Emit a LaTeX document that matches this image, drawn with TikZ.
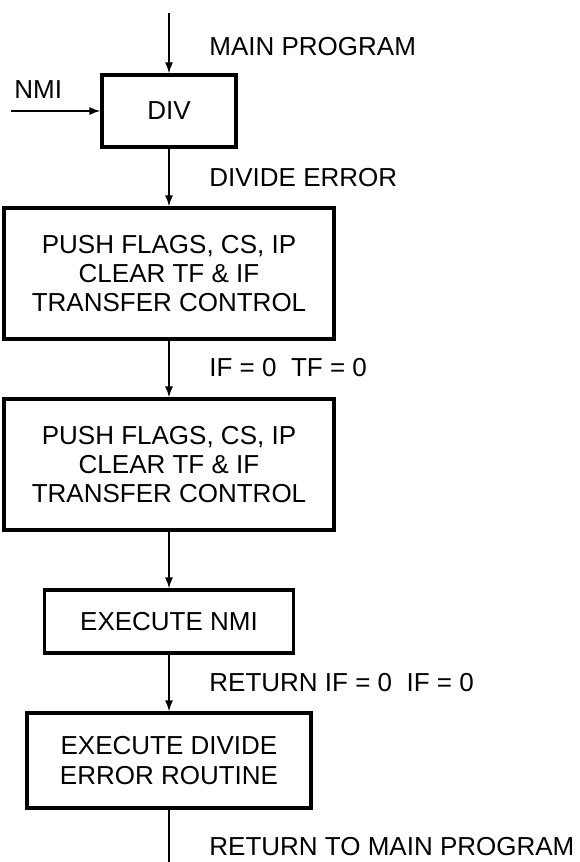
\documentclass[tikz,border=0pt]{standalone}
\usepackage{fontspec}
\setmainfont{Liberation Sans}
\usetikzlibrary{arrows.meta}
\begin{document}
\begin{tikzpicture}[x=0.5pt,y=-0.5pt,
  every node/.style={font=\fontsize{13}{14.6}\selectfont},
  box/.style={draw,line width=1.6pt,rectangle,align=center,inner sep=0pt},
  lbl/.style={anchor=west,inner sep=0pt},
  conn/.style={line width=0.8pt},
  arr/.style={conn,-{Latex[length=5.5pt,width=4pt]}}]
\useasboundingbox (0,0) rectangle (579,862);
\node[box,minimum width=134*0.5pt,minimum height=72*0.5pt] (div) at (169,111) {DIV};
\node[box,minimum width=330*0.5pt,minimum height=131*0.5pt] (b1) at (169,273.5) {PUSH FLAGS, CS, IP\\CLEAR TF \& IF\\TRANSFER CONTROL};
\node[box,minimum width=330*0.5pt,minimum height=131*0.5pt] (b2) at (169,464.5) {PUSH FLAGS, CS, IP\\CLEAR TF \& IF\\TRANSFER CONTROL};
\node[box,minimum width=249*0.5pt,minimum height=63*0.5pt] (b3) at (169,621.5) {EXECUTE NMI};
\node[box,minimum width=284*0.5pt,minimum height=95*0.5pt] (b4) at (169,760.5) {EXECUTE DIVIDE\\ERROR ROUTINE};
\coordinate (top) at (169,13);
\coordinate (bot) at (169,862);
\coordinate (nmiin) at (11,111);
\node[lbl] (lmain) at (209,47) {MAIN PROGRAM};
\node[lbl] (lnmi) at (14,90) {NMI};
\node[lbl] (ldiv) at (209,178) {DIVIDE ERROR};
\node[lbl] (lif) at (209,368) {IF = 0\ \ TF = 0};
\node[lbl] (lret) at (209,683) {RETURN IF = 0\ \ IF = 0};
\node[lbl] (lretm) at (209,847) {RETURN TO MAIN PROGRAM};
\draw[arr] (top) -- (div.north);
\draw[arr] (nmiin) -- (div.west);
\draw[arr] (div.south) -- (b1.north);
\draw[arr] (b1.south) -- (b2.north);
\draw[arr] (b2.south) -- (b3.north);
\draw[arr] (b3.south) -- (b4.north);
\draw[conn] (b4.south) -- (bot);
\end{tikzpicture}
\end{document}
